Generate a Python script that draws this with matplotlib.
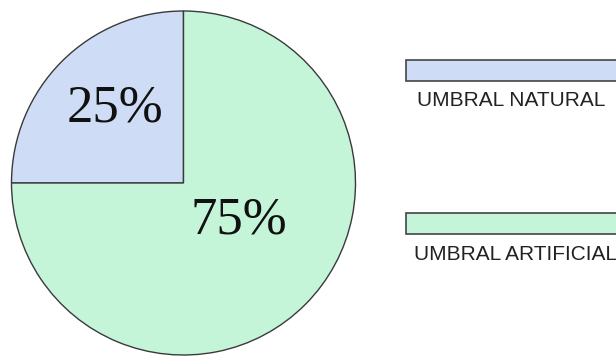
import matplotlib.pyplot as plt
from matplotlib.patches import Rectangle

# data
labels = ["UMBRAL NATURAL", "UMBRAL ARTIFICIAL"]
shares = [25, 75]
colors = ["#cfdcf5", "#c4f5d9"]
pct_text = ["25%", "75%"]


def main():
    fig = plt.figure(figsize=(6.16, 3.56), dpi=100)
    ax = fig.add_axes([0, 0, 1, 1])

    # pie in pixel coordinates (y up)
    cx, cy, r = 183.5, 356 - 183, 172
    wedges, _ = ax.pie(shares, colors=colors, startangle=90, counterclock=True,
                       center=(cx, cy), radius=r,
                       wedgeprops=dict(edgecolor="#3a3a3a", linewidth=1.0))

    ax.set_xlim(0, 616)
    ax.set_ylim(0, 356)
    ax.set_aspect("equal")
    ax.axis("off")

    # percentage labels
    pct_pos = [(115, 356 - 109), (239, 356 - 221)]
    for txt, (x, y) in zip(pct_text, pct_pos):
        ax.text(x, y, txt, ha="center", va="center", fontsize=38,
                family="Liberation Serif", color="#111111")

    # legend boxes running off the right edge
    box_y = [356 - 81, 356 - 234]
    text_y = [356 - 100, 356 - 255]
    text_x = [417, 414]
    for lab, col, by, tx, ty in zip(labels, colors, box_y, text_x, text_y):
        ax.add_patch(Rectangle((406, by), 240, 21, facecolor=col,
                               edgecolor="#444444", linewidth=1.2, clip_on=True))
        ax.text(tx, ty, lab, ha="left", va="center", fontsize=15,
                family="Liberation Sans", color="#222222")

    fig.savefig("out.png", dpi=100)


if __name__ == "__main__":
    main()
